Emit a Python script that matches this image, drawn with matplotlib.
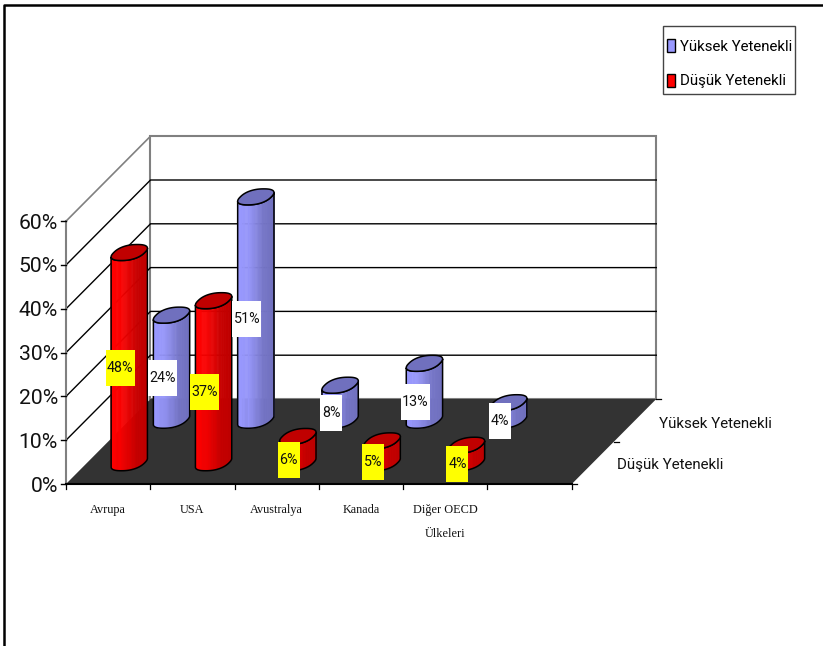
import numpy as np
import matplotlib
matplotlib.use('Agg')
import matplotlib.pyplot as plt
from matplotlib.patches import Polygon, Rectangle, Patch
from matplotlib.collections import PolyCollection

categories = ['Avrupa', 'USA', 'Avustralya', 'Kanada', 'Diğer OECD\nÜlkeleri', '']
yuksek = [24, 51, 8, 13, 4]
dusuk = [48, 37, 6, 5, 4]
series_names = ['Yüksek Yetenekli', 'Düşük Yetenekli']
value_ticks = [0, 10, 20, 30, 40, 50, 60]

sans = 'Roboto'

# pixels of the fake 3d box
X0, Y0 = 66.0, 484.0
CAT_W = 84.3
DX, DY = 84.5, 85.0
PX_PER_PCT = 4.38


def project(cat, depth, value=0):
    return X0 + cat * CAT_W + depth * DX, Y0 - depth * DY - value * PX_PER_PCT


fig = plt.figure(figsize=(8.23, 6.46), dpi=100)
ax = fig.add_axes([0, 0, 1, 1])
ax.set_xlim(0, 823)
ax.set_ylim(646, 0)
ax.axis('off')

# page border
ax.plot([4.5, 4.5, 823], [646, 5, 5], color='black', lw=1.8, zorder=1)

gray = '#808080'
n_cat = len(categories)
top = value_ticks[-1]

# walls
wall = [project(0, 1, 0), project(n_cat, 1, 0), project(n_cat, 1, top), project(0, 1, top)]
ax.add_patch(Polygon(wall, closed=True, fc='white', ec=gray, lw=1.5, zorder=2))
for v in value_ticks[1:-1]:
    xs, ys = zip(project(0, 0, v), project(0, 1, v), project(n_cat, 1, v))
    ax.plot(xs, ys, color='black', lw=1.0, zorder=2)
xs, ys = zip(project(0, 0, top), project(0, 1, top))
ax.plot(xs, ys, color=gray, lw=1.2, zorder=2)
xs, ys = zip(project(0, 0, 0), project(0, 0, top))
ax.plot(xs, ys, color=gray, lw=1.5, zorder=2)

# floor
floor = [project(0, 0), project(n_cat, 0), project(n_cat, 1), project(0, 1)]
ax.add_patch(Polygon(floor, closed=True, fc='#333333', ec='none', zorder=3))
xs, ys = zip(project(0, 0), project(n_cat, 0))
ax.plot(xs, ys, color='black', lw=1.5, zorder=3)

# ticks and labels
for v in value_ticks:
    x, y = project(0, 0, v)
    ax.plot([x - 5, x], [y, y], color='black', lw=1.0, zorder=3)
    ax.text(x - 8, y + 2, f'{v}%', ha='right', va='center', fontsize=15.2, family=sans, color='#111111')
for i in range(n_cat + 1):
    x, y = project(i, 0)
    ax.plot([x, x], [y, y + 5], color='black', lw=0.9, zorder=3)
for i, name in enumerate(categories):
    x, y = project(i + 0.5, 0)
    ax.text(x, y + 20, name, ha='center', va='top', fontsize=8.8, family='Liberation Serif',
            linespacing=2.35, color='#111111')
for d in [0, 0.5, 1]:
    x, y = project(n_cat, d)
    ax.plot([x, x + 5], [y, y], color='black', lw=0.9, zorder=3)
for name, d, shift in zip(series_names, [0.75, 0.25], [4, 2.5]):
    x, y = project(n_cat, d)
    ax.text(x + 24, y + shift, name, ha='left', va='center', fontsize=10.9, family=sans, color='#111111')


def draw_cylinder(cat, depth, value, light, dark, cap, z):
    cx, base_y = project(cat + 0.5, depth)
    w, d, p = 31.0, 16.0, 0.85
    t = np.linspace(0, 2 * np.pi, 120, endpoint=False)
    u = np.sign(np.cos(t)) * np.abs(np.cos(t)) ** p * w / 2
    v = np.sign(np.sin(t)) * np.abs(np.sin(t)) ** p * d / 2
    fx = cx + u + v
    fy = -v
    # front half of the outline, left to right
    start = np.argmin(fx)
    fx, fy = np.roll(fx, -start), np.roll(fy, -start)
    end = np.argmax(fx)
    if fy[1:end].mean() < 0:   # went round the back, take the other way
        fx, fy = np.roll(fx[::-1], 1), np.roll(fy[::-1], 1)
        end = np.argmax(fx)
    cx_f, cy_f = fx[:end + 1], fy[:end + 1]
    h = value * PX_PER_PCT
    quads, cols = [], []
    light, dark = np.array(light), np.array(dark)
    for j in range(len(cx_f) - 1):
        frac = (cx_f[j] - cx_f[0]) / (cx_f[-1] - cx_f[0])
        mix = np.interp(frac, [0, 0.3, 0.55, 0.7, 1], [0, 0.1, 0.55, 0.85, 1])
        quads.append([(cx_f[j], base_y + cy_f[j]), (cx_f[j + 1], base_y + cy_f[j + 1]),
                      (cx_f[j + 1], base_y + cy_f[j + 1] - h), (cx_f[j], base_y + cy_f[j] - h)])
        cols.append((light + (dark - light) * mix) / 255)
    ax.add_collection(PolyCollection(quads, facecolors=cols, edgecolors=cols, linewidths=0.4, zorder=z))
    outline = list(zip(cx_f, base_y + cy_f)) + list(zip(cx_f[::-1], base_y + cy_f[::-1] - h))
    ax.add_patch(Polygon(outline, closed=True, fc='none', ec='black', lw=1.1, zorder=z + 0.1))
    ax.add_patch(Polygon(np.column_stack([fx, base_y + fy - h]), closed=True, fc=np.array(cap) / 255,
                         ec='black', lw=1.1, zorder=z + 0.2))


def draw_label(cat, depth, value, color):
    cx, base_y = project(cat + 0.5, depth)
    x = cx - 9
    y = base_y - value * PX_PER_PCT / 2 + 10
    w = 29 if value >= 10 else 22
    ax.add_patch(Rectangle((x - w / 2, y - 18), w, 36, fc=color, ec='none', zorder=30))
    ax.text(x, y, f'{value}%', ha='center', va='center', fontsize=10.3, family=sans, color='#111111', zorder=31)


for i, v in enumerate(yuksek):
    draw_cylinder(i, 0.75, v, (153, 153, 255), (112, 112, 190), (112, 112, 190), 10 + i)
for i, v in enumerate(dusuk):
    draw_cylinder(i, 0.25, v, (255, 0, 0), (190, 0, 0), (192, 0, 0), 20 + i)
for i, v in enumerate(yuksek):
    draw_label(i, 0.75, v, 'white')
for i, v in enumerate(dusuk):
    draw_label(i, 0.25, v, '#ffff00')

# legend, box drawn by hand because legend padding is the same on all sides
ax.add_patch(Rectangle((663, 26), 132, 68, fc='white', ec='#444444', lw=1.0, zorder=39))
handles = [Patch(fc='#9999ff', ec='black', lw=1.0), Patch(fc='#ff0000', ec='black', lw=1.0)]
leg = ax.legend(handles, series_names, loc='upper left', bbox_to_anchor=(663 / 823, 1 - 35 / 646),
                bbox_transform=fig.transFigure, borderaxespad=0, frameon=False,
                prop={'family': sans, 'size': 10.8},
                handlelength=0.55, handleheight=0.95, handletextpad=0.28, labelspacing=1.33,
                borderpad=0.28)
leg.set_zorder(40)

fig.savefig('out.png', dpi=100)
